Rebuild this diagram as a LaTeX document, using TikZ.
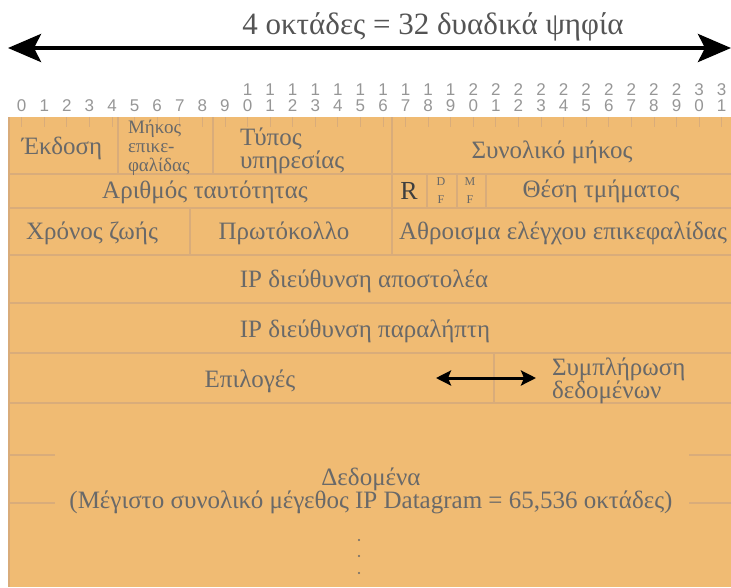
\documentclass[tikz,border=0pt]{standalone}
\usepackage{fontspec}
\setmainfont{Liberation Serif}
\newfontfamily\bitfont{Liberation Sans}
\usetikzlibrary{arrows.meta}
\definecolor{hdrfill}{RGB}{240,187,115}
\definecolor{hdrline}{RGB}{217,172,122}
\definecolor{hdrtext}{RGB}{105,105,105}
\definecolor{bitgray}{RGB}{150,150,150}

\begin{document}
\begin{tikzpicture}[x=1pt,y=-1pt,inner sep=0pt,outer sep=0pt,
field/.style={text=hdrtext,font=\fontsize{25}{23}\selectfont,align=left},
smallfield/.style={text=hdrtext,font=\fontsize{19}{19}\selectfont,align=left},
flag/.style={text=hdrtext,font=\fontsize{12}{18}\selectfont,align=center},
bitnum/.style={text=bitgray,font=\bitfont\fontsize{17}{17}\selectfont},
divider/.style={draw=hdrline,line width=1.6pt},
widearrow/.style={{Stealth[length=33pt,width=28pt,inset=7pt]}-{Stealth[length=33pt,width=28pt,inset=7pt]},line width=4pt},
padarrow/.style={{Stealth[length=15pt,width=15pt,inset=3pt]}-{Stealth[length=15pt,width=15pt,inset=3pt]},line width=3pt}]

\useasboundingbox (0,0) rectangle (731,587);
\fill[hdrfill] (8,117) rectangle (731,587);

% width of the header
\draw (433,27) node[font=\fontsize{31}{31}\selectfont,text=hdrtext!80!black] (title) {4 οκτάδες = 32 δυαδικά ψηφία};
\coordinate (wl) at (8,48);
\coordinate (wr) at (731,48);
\draw[widearrow] (wl) -- (wr);

% bit numbers and ticks
\foreach \i in {0,...,31}{
  \pgfmathtruncatemacro{\units}{mod(\i,10)}
  \pgfmathtruncatemacro{\tens}{\i/10}
  \draw (21.7+22.58*\i,106) node[bitnum] (b\i) {\units};
  \ifnum\i>9 \draw (21.7+22.58*\i,90) node[bitnum] (t\i) {\tens}; \fi
  \draw[hdrline,line width=0.8pt] (21.7+22.58*\i,117) -- ++(0,10);
}

% field borders
\draw[divider] (9,117) -- (9,587);
\foreach \y in {174,208,255,303,353,403} \draw[divider] (8,\y) -- (731,\y);
\draw[divider] (118,117) -- (118,174);
\draw[divider] (213,117) -- (213,174);
\draw[divider] (392,117) -- (392,255);
\draw[divider] (427,174) -- (427,208);
\draw[divider] (457,174) -- (457,208);
\draw[divider] (486,174) -- (486,208);
\draw[divider] (190,208) -- (190,255);
\draw[divider] (494,353) -- (494,403);
\foreach \y in {455,503}{
  \draw[divider] (8,\y) -- (55,\y);
  \draw[divider] (689,\y) -- (731,\y);
}

% first word
\draw (62,148) node[field] (version) {Έκδοση};
\draw (128,148) node[smallfield,anchor=west] (ihl) {Μήκος\\επικε-\\φαλίδας};
\draw (240,151) node[field,anchor=west] (tos) {Τύπος\\υπηρεσίας};
\draw (552,152) node[field] (totlen) {Συνολικό μήκος};

% second word
\draw (205,192) node[field] (ident) {Αριθμός ταυτότητας};
\draw (409,191) node[field,font=\fontsize{26}{26}\selectfont,text=hdrtext!60!black] (rflag) {R};
\draw (441,191) node[flag] (dflag) {D\\F};
\draw (470,191) node[flag] (mflag) {M\\F};
\draw (601,191) node[field] (fragoff) {Θέση τμήματος};

% third word
\draw (92,233) node[field] (ttl) {Χρόνος ζωής};
\draw (284,233) node[field] (proto) {Πρωτόκολλο};
\draw (399,233) node[field,anchor=west] (chksum) {Αθροισμα ελέγχου επικεφαλίδας};

% addresses
\draw (364,281) node[field] (src) {IP διεύθυνση αποστολέα};
\draw (365,331) node[field] (dst) {IP διεύθυνση παραλήπτη};

% options and padding
\draw (250,381) node[field] (opts) {Επιλογές};
\draw (552,381) node[field,anchor=west] (pad) {Συμπλήρωση\\δεδομένων};
\coordinate (pl) at (436,378);
\coordinate (pr) at (536,378);
\draw[padarrow] (pl) -- (pr);

% data
\draw (371,491) node[field,align=center] (data) {Δεδομένα\\(Μέγιστο συνολικό μέγεθος IP Datagram = 65,536 οκτάδες)};
\foreach \y in {540,556,573} \fill[hdrtext] (359,\y) circle (1.2);
\end{tikzpicture}
\end{document}
